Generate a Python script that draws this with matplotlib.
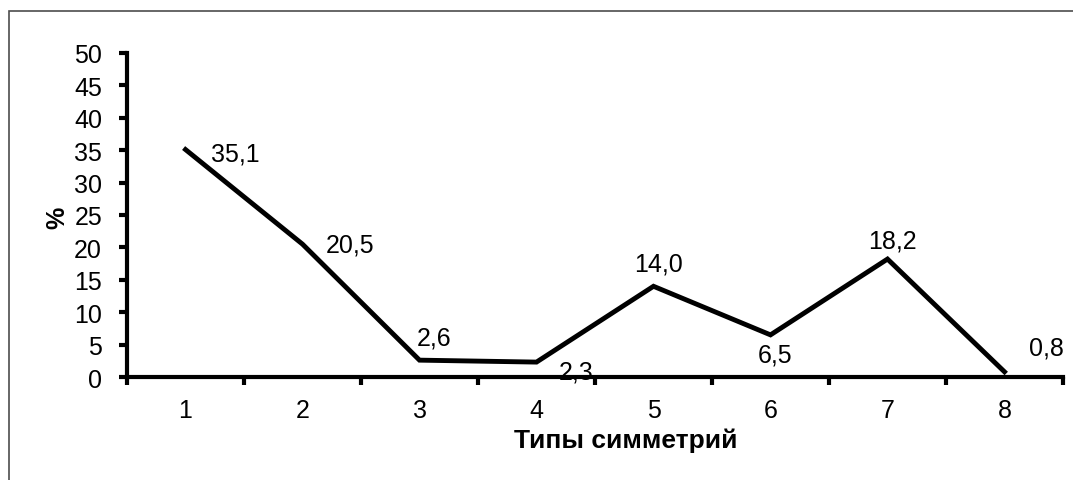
import matplotlib.pyplot as plt
from matplotlib.patches import Rectangle

types = [1, 2, 3, 4, 5, 6, 7, 8]
values = [35.1, 20.5, 2.6, 2.3, 14.0, 6.5, 18.2, 0.8]
labels = ["35,1", "20,5", "2,6", "2,3", "14,0", "6,5", "18,2", "0,8"]
# label offsets in pixels (dx, dy) and horizontal alignment
offsets = [(25, -4, 'left'), (23, 0, 'left'), (15, 23, 'center'), (40, -9, 'center'),
           (5, 23, 'center'), (5, -20, 'center'), (5, 19, 'center'), (42, 24, 'center')]

plt.rcParams['font.family'] = ['Liberation Sans', 'DejaVu Sans']
fs = 18

fig = plt.figure(figsize=(10.73, 4.81), dpi=100)
fig.patches.append(Rectangle((9/1073, -0.1), 1.2, 1 - 12/481 + 0.1, transform=fig.transFigure,
                             fill=False, edgecolor='#4d4d4d', linewidth=1.2))
ax = fig.add_axes([127/1073, 1 - 378/481, (1063 - 127)/1073, (378 - 54)/481])

x = list(range(len(types)))
ax.plot(x, values, color='black', linewidth=3.5, solid_joinstyle='miter')

for xi, v, lab, (dx, dy, ha) in zip(x, values, labels, offsets):
    ax.annotate(lab, (xi, v), xytext=(dx, dy), textcoords='offset pixels',
                ha=ha, va='center', fontsize=fs)

ax.set_xlim(-0.5, len(types) - 0.5)
ax.set_ylim(0, 50)
ax.set_yticks(range(0, 51, 5))
ax.set_xticks([i - 0.5 for i in range(len(types) + 1)])
ax.set_xticklabels([])
ax.set_xticks(x, minor=True)
ax.set_xticklabels([str(t) for t in types], minor=True)
ax.tick_params(axis='x', which='minor', length=0, labelsize=fs, pad=15)
ax.tick_params(axis='x', which='major', length=6, width=3, direction='out')
ax.tick_params(axis='y', length=6, width=3, direction='out', labelsize=fs, pad=12)

for s in ['top', 'right']:
    ax.spines[s].set_visible(False)
for s in ['left', 'bottom']:
    ax.spines[s].set_linewidth(3)

fig.text(57/1073, 1 - 218/481, '%', rotation=90, ha='center', va='center',
         fontsize=fs, fontweight='bold')
fig.text(626/1073, 1 - 441/481, 'Типы симметрий', ha='center', va='center',
         fontsize=19, fontweight='bold')

fig.savefig('out.png', dpi=100)
